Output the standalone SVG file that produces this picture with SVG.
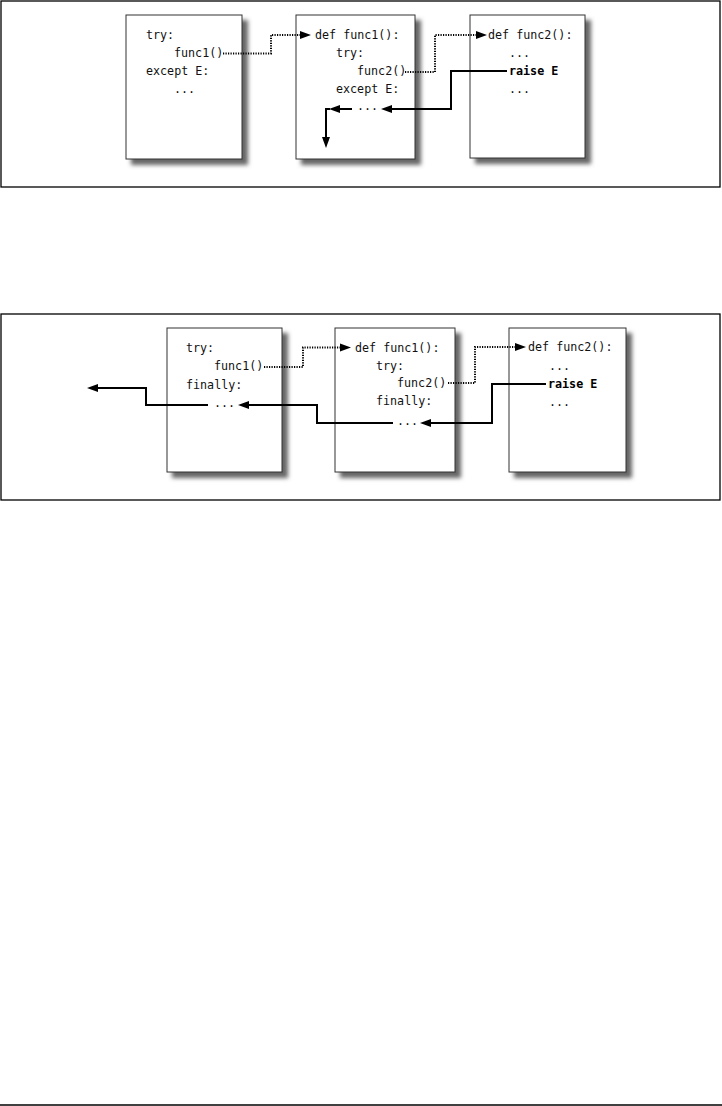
<svg xmlns="http://www.w3.org/2000/svg" width="722" height="1106" viewBox="0 0 722 1106">
<style>
.frame{fill:none;stroke:#000;stroke-width:1.3}
.box{fill:#fff;stroke:#333;stroke-width:1}
.shadow{fill:#666;filter:url(#blur)}
.code{font-family:"DejaVu Sans Mono","Liberation Mono",monospace;font-size:11.7px;fill:#111}
.bold{font-weight:bold;fill:#000}
.solid{fill:none;stroke:#000;stroke-width:2}
.dot{fill:none;stroke:#000;stroke-width:2;stroke-dasharray:1.2 1.3}
.head{fill:#000}
</style>
<defs>
<filter id="blur" x="-20%" y="-20%" width="140%" height="140%"><feGaussianBlur stdDeviation="2.3"/></filter>
</defs>
<rect width="722" height="1106" fill="#fff"/>
<rect class="frame" x="1" y="1" width="719" height="186"/>
<rect class="frame" x="1" y="314" width="719" height="186"/>
<line x1="0" y1="1105" x2="722" y2="1105" stroke="#000" stroke-width="1.3"/>

<g id="top-box1">
<rect class="shadow" x="131" y="20" width="117" height="145"/>
<rect class="box" x="126" y="15" width="116" height="144"/>
<text class="code" x="146" y="39">try:</text>
<text class="code" x="174" y="57">func1()</text>
<text class="code" x="146" y="75">except E:</text>
<text class="code" x="174" y="93">...</text>
</g>
<g id="top-box2">
<rect class="shadow" x="301" y="20" width="120" height="145"/>
<rect class="box" x="296" y="15" width="119" height="144"/>
<text class="code" x="315" y="39">def func1():</text>
<text class="code" x="336" y="57">try:</text>
<text class="code" x="357" y="75">func2()</text>
<text class="code" x="336" y="93">except E:</text>
<text class="code" x="357" y="110">...</text>
</g>
<g id="top-box3">
<rect class="shadow" x="475" y="20" width="116" height="144"/>
<rect class="box" x="470" y="15" width="115" height="143"/>
<text class="code" x="488" y="39">def func2():</text>
<text class="code" x="509" y="57">...</text>
<text class="code bold" x="509" y="75">raise E</text>
<text class="code" x="509" y="93">...</text>
</g>

<g id="bottom-boxA">
<rect class="shadow" x="172" y="333" width="116" height="145"/>
<rect class="box" x="167" y="328" width="115" height="144"/>
<text class="code" x="186" y="352">try:</text>
<text class="code" x="214" y="370">func1()</text>
<text class="code" x="186" y="389">finally:</text>
<text class="code" x="214" y="407">...</text>
</g>
<g id="bottom-boxB">
<rect class="shadow" x="340" y="333" width="121" height="145"/>
<rect class="box" x="335" y="328" width="120" height="144"/>
<text class="code" x="355" y="352">def func1():</text>
<text class="code" x="376" y="370">try:</text>
<text class="code" x="397" y="387">func2()</text>
<text class="code" x="376" y="405">finally:</text>
<text class="code" x="397" y="425">...</text>
</g>
<g id="bottom-boxC">
<rect class="shadow" x="514" y="333" width="118" height="145"/>
<rect class="box" x="509" y="328" width="117" height="144"/>
<text class="code" x="528" y="351">def func2():</text>
<text class="code" x="549" y="370">...</text>
<text class="code bold" x="548" y="388">raise E</text>
<text class="code" x="549" y="406">...</text>
</g>

<g id="connectors">
<path class="dot" d="M223,53.5 H271 V35 H301"/>
<polygon class="head" points="311,35 300,31 300,39"/>
<path class="dot" d="M405,72 H435 V35 H477"/>
<polygon class="head" points="487,35 476,31 476,39"/>
<path class="solid" d="M507,71 H451 V109 H391"/>
<polygon class="head" points="381,109 392,105 392,113"/>
<path class="solid" d="M352,109 H339"/>
<polygon class="head" points="329,109 340,105 340,113"/>
<path class="solid" d="M330,109 H326 V138"/>
<polygon class="head" points="326,148 322,137 330,137"/>

<path class="dot" d="M264,367 H303 V347.5 H341"/>
<polygon class="head" points="351,347.5 340,343.5 340,351.5"/>
<path class="dot" d="M448,383 H475 V347 H516"/>
<polygon class="head" points="526,347 515,343 515,351"/>
<path class="solid" d="M546,384 H492 V423 H430"/>
<polygon class="head" points="420,423 431,419 431,427"/>
<path class="solid" d="M393,423 H317 V405 H248"/>
<polygon class="head" points="238,405 249,401 249,409"/>
<path class="solid" d="M208,405 H146 V388 H97"/>
<polygon class="head" points="87,388 98,384 98,392"/>
</g>
</svg>
